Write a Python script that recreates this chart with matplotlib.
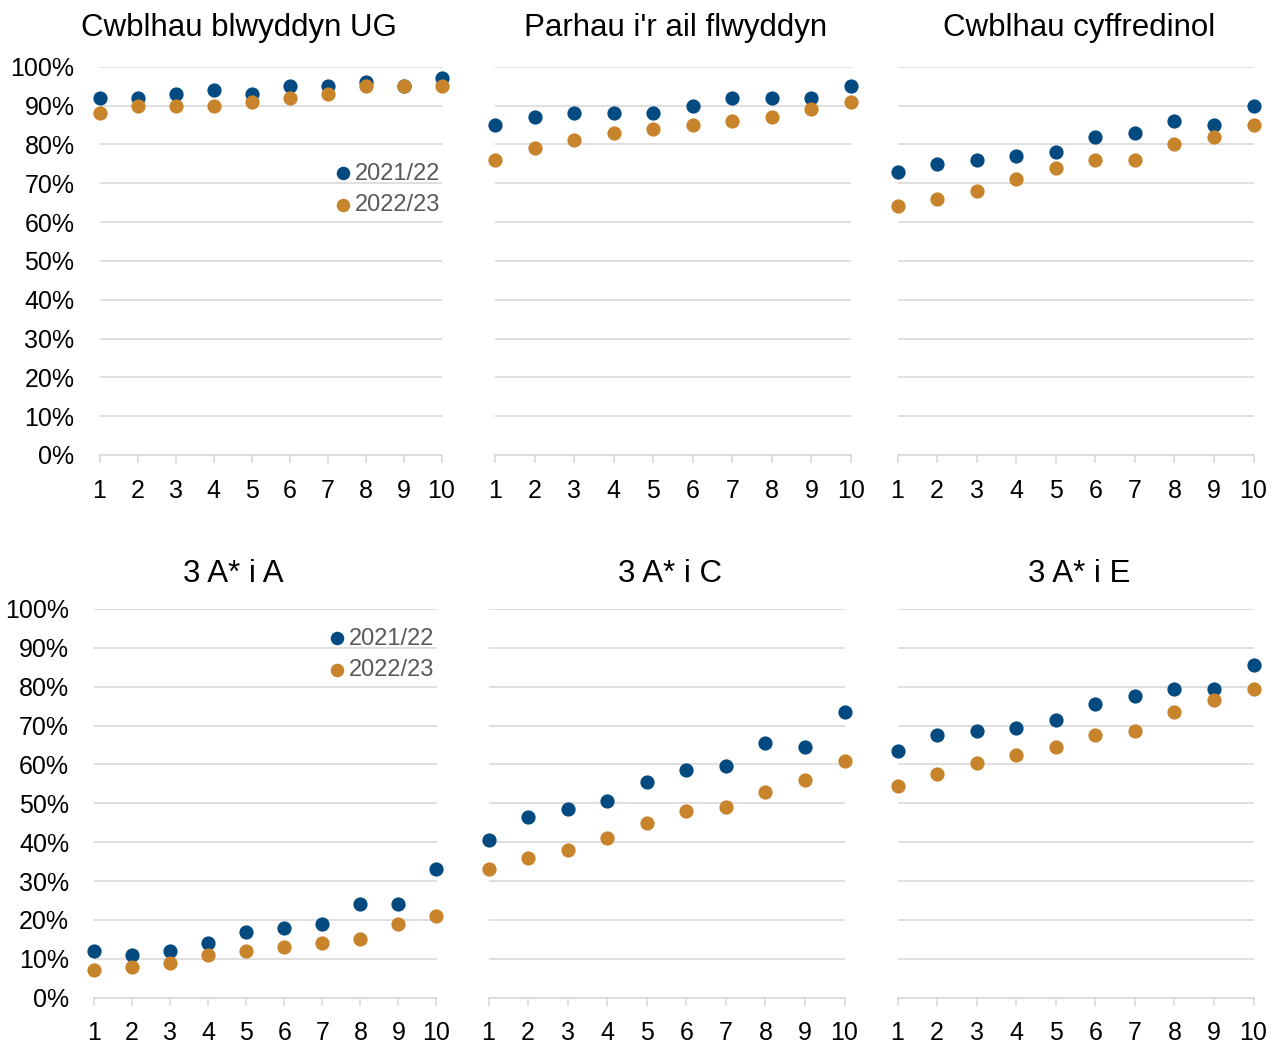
import matplotlib
matplotlib.use("Agg")
import matplotlib.pyplot as plt
from matplotlib.ticker import FuncFormatter

plt.rcParams['font.family'] = ['Liberation Sans', 'DejaVu Sans']

x = [1, 2, 3, 4, 5, 6, 7, 8, 9, 10]
series_labels = ["2021/22", "2022/23"]
titles = ["Cwblhau blwyddyn UG", "Parhau i'r ail flwyddyn", "Cwblhau cyffredinol",
          "3 A* i A", "3 A* i C", "3 A* i E"]

ug_2122 = [92, 92, 93, 94, 93, 95, 95, 96, 95, 97]
ug_2223 = [88, 90, 90, 90, 91, 92, 93, 95, 95, 95]
ail_2122 = [85, 87, 88, 88, 88, 90, 92, 92, 92, 95]
ail_2223 = [76, 79, 81, 83, 84, 85, 86, 87, 89, 91]
cyff_2122 = [73, 75, 76, 77, 78, 82, 83, 86, 85, 90]
cyff_2223 = [64, 66, 68, 71, 74, 76, 76, 80, 82, 85]
aa_2122 = [12, 11, 12, 14, 17, 18, 19, 24, 24, 33]
aa_2223 = [7, 8, 9, 11, 12, 13, 14, 15, 19, 21]
ac_2122 = [40.5, 46.5, 48.5, 50.5, 55.5, 58.5, 59.5, 65.5, 64.5, 73.5]
ac_2223 = [33, 36, 38, 41, 45, 48, 49, 53, 56, 61]
ae_2122 = [63.5, 67.5, 68.5, 69.5, 71.5, 75.5, 77.5, 79.5, 79.5, 85.5]
ae_2223 = [54.5, 57.5, 60.5, 62.5, 64.5, 67.5, 68.5, 73.5, 76.5, 79.5]

panels = [(ug_2122, ug_2223), (ail_2122, ail_2223), (cyff_2122, cyff_2223),
          (aa_2122, aa_2223), (ac_2122, ac_2223), (ae_2122, ae_2223)]

BLUE = '#024a80'
ORANGE = '#c8842a'
GRID = '#d9d9d9'

W, H = 1279, 1044
fig = plt.figure(figsize=(W / 100, H / 100), dpi=100)

# axes boxes in pixels: (left, right, top(100%), bottom(0%))
boxes = [(99.5, 441.5, 66.7, 455), (495, 851, 66.7, 455), (897.5, 1253.5, 66.7, 455),
         (94, 436.5, 609, 997.7), (488.5, 844.5, 609, 997.7), (897.5, 1253.5, 609, 997.7)]
title_pos = [(239, 36), (676, 36), (1079, 36), (233, 582.5), (670, 582.5), (1079, 582.5)]
legend_pos = {0: (333.6, 162.6), 3: (327.6, 627.6)}

for i, ((l, r, t, b), (s1, s2)) in enumerate(zip(boxes, panels)):
    ax = fig.add_axes([l / W, 1 - b / H, (r - l) / W, (b - t) / H])
    h1 = ax.scatter(x, s1, s=105, color=BLUE, zorder=3, clip_on=False, linewidths=0, label=series_labels[0])
    h2 = ax.scatter(x, s2, s=105, color=ORANGE, zorder=4, clip_on=False, linewidths=0, label=series_labels[1])
    ax.set_xlim(1, 10)
    ax.set_ylim(0, 100)
    ax.set_yticks(range(0, 101, 10))
    ax.set_xticks(x)
    ax.set_axisbelow(True)
    ax.yaxis.grid(True, color=GRID, linewidth=1.2)
    for sp in ['left', 'right', 'top']:
        ax.spines[sp].set_visible(False)
    ax.spines['bottom'].set_color(GRID)
    ax.spines['bottom'].set_linewidth(1.2)
    ax.tick_params(axis='x', length=5.5, width=1.2, color=GRID, labelsize=18, pad=11.5, labelcolor='black')
    ax.tick_params(axis='y', length=0, labelsize=18, pad=18, labelcolor='black')
    if i % 3 == 0:
        ax.yaxis.set_major_formatter(FuncFormatter(lambda v, p: f"{int(v)}%"))
    else:
        ax.set_yticklabels([])
    fig.text(title_pos[i][0] / W, 1 - title_pos[i][1] / H, titles[i], fontsize=22.5,
             ha='center', va='baseline', color='black')
    if i in legend_pos:
        lx, ly = legend_pos[i]
        ax.legend(handles=[h1, h2], loc='upper left', bbox_to_anchor=(lx / W, 1 - ly / H),
                  bbox_transform=fig.transFigure, frameon=False, fontsize=17,
                  labelcolor='#595959', borderpad=0, borderaxespad=0, handlelength=0.8,
                  handletextpad=0.1, labelspacing=0.39, scatterpoints=1, markerscale=0.95)

fig.savefig('out.png', dpi=100, facecolor='white')
